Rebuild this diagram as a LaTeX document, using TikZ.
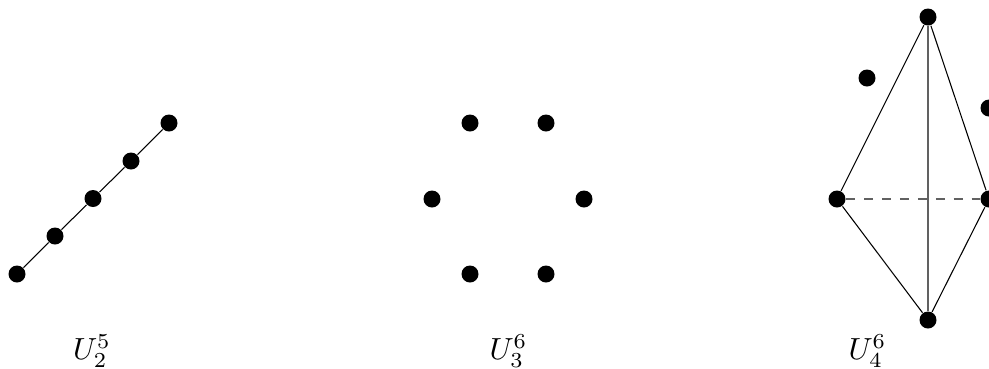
\documentclass[tikz,border=0pt]{standalone}
\tikzset{
  pt/.style={circle,fill=black,inner sep=0pt,minimum size=17*0.3012pt},
  edge/.style={draw=black,line width=0.32pt},
  softedge/.style={draw=black!62,line width=0.55pt},
  dashedge/.style={softedge,dash pattern=on 2.7pt off 2.7pt},
  lbl/.style={inner sep=0pt,anchor=center,scale=0.92}
}
\begin{document}
\begin{tikzpicture}[x=0.3012pt,y=-0.3012pt]
\useasboundingbox[clip] (0,0) rectangle (989,368);
% U_2^5
\node[pt] (a1) at (17,274) {};
\node[pt] (a2) at (55,236) {};
\node[pt] (a3) at (93,198.5) {};
\node[pt] (a4) at (131,161) {};
\node[pt] (a5) at (169,123) {};
\draw[edge] (a1) -- (a2) -- (a3) -- (a4) -- (a5);
\node[lbl] (la) at (92,351) {$U_2^5$};
% U_3^6
\node[pt] (b1) at (470,123) {};
\node[pt] (b2) at (546,123) {};
\node[pt] (b3) at (432,199) {};
\node[pt] (b4) at (584,199) {};
\node[pt] (b5) at (470,274) {};
\node[pt] (b6) at (546,274) {};
\node[lbl] (lb) at (508.5,351) {$U_3^6$};
% U_4^6
\node[pt] (c1) at (928,17) {};
\node[pt] (c2) at (867,78) {};
\node[pt] (c3) at (989,108) {};
\node[pt] (c4) at (837,199) {};
\node[pt] (c5) at (989,199) {};
\node[pt] (c6) at (928,320) {};
\draw[edge] (c1) -- (c4) -- (c6) -- (c5) -- (c1);
\draw[softedge] (c1) -- (c6);
\draw[dashedge] (c4) -- (c5);
\node[lbl] (lc) at (867.5,351) {$U_4^6$};
\end{tikzpicture}
\end{document}
